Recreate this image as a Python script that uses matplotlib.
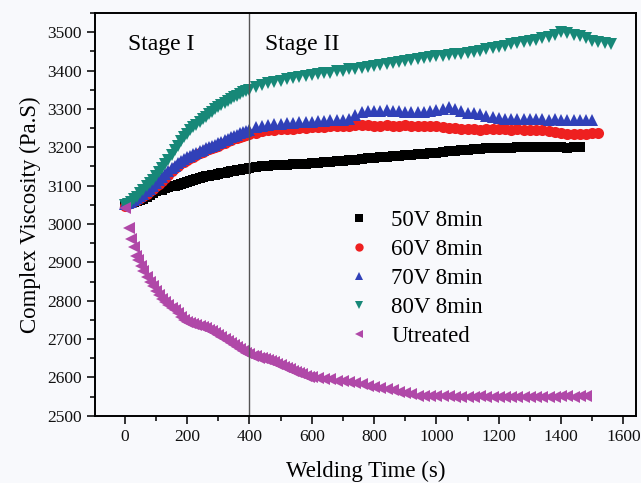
import matplotlib
matplotlib.use("Agg")
import matplotlib.pyplot as plt
from matplotlib.lines import Line2D
from matplotlib.ticker import MultipleLocator

plt.rcParams['font.family'] = ['Liberation Serif', 'DejaVu Serif']

# ---- data ----
x_50 = list(range(0, 400, 10)) + list(range(400, 1461, 20))
y_50 = [3050, 3052, 3055, 3057, 3060, 3062, 3065, 3070, 3075, 3080,
        3085, 3088, 3090, 3093, 3096, 3098, 3100, 3103, 3105, 3108,
        3110, 3113, 3115, 3118, 3120, 3122, 3124, 3126, 3127, 3129,
        3130, 3132, 3134, 3136, 3138, 3139, 3140, 3142, 3143, 3144,
        3145, 3148, 3150, 3152, 3154, 3155, 3155, 3156, 3157, 3157,
        3158, 3160, 3162, 3163, 3164, 3165, 3167, 3168, 3170, 3172,
        3173, 3175, 3176, 3177, 3178, 3180, 3181, 3182, 3183, 3184,
        3186, 3188, 3190, 3191, 3192, 3193, 3195, 3196, 3197, 3197,
        3197, 3198, 3199, 3200, 3200, 3200, 3200, 3201, 3200, 3200,
        3200, 3199, 3200, 3200]

x_60 = list(range(0, 400, 10)) + list(range(400, 1521, 20))
y_60 = [3048, 3051, 3055, 3059, 3063, 3067, 3072, 3078, 3085, 3091,
        3098, 3105, 3112, 3120, 3128, 3137, 3145, 3152, 3158, 3163,
        3168, 3172, 3176, 3181, 3185, 3189, 3192, 3195, 3198, 3201,
        3204, 3208, 3212, 3216, 3220, 3223, 3225, 3228, 3230, 3233,
        3235, 3238, 3242, 3245, 3246, 3247, 3248, 3248, 3250, 3251,
        3252, 3253, 3254, 3255, 3255, 3256, 3255, 3257, 3258, 3257,
        3256, 3256, 3257, 3256, 3256, 3257, 3256, 3255, 3256, 3256,
        3255, 3253, 3250, 3250, 3249, 3248, 3248, 3246, 3247, 3248,
        3247, 3247, 3246, 3247, 3246, 3245, 3245, 3244, 3242, 3240,
        3238, 3236, 3235, 3235, 3236, 3237, 3238]

x_70 = list(range(0, 400, 10)) + list(range(400, 1501, 20))
y_70 = [3052, 3055, 3058, 3062, 3067, 3072, 3078, 3085, 3092, 3100,
        3108, 3115, 3122, 3130, 3138, 3145, 3152, 3158, 3164, 3169,
        3174, 3178, 3182, 3186, 3190, 3194, 3197, 3200, 3203, 3206,
        3210, 3214, 3218, 3222, 3226, 3230, 3233, 3237, 3240, 3243,
        3246, 3252, 3256, 3259, 3261, 3262, 3263, 3264, 3265, 3266,
        3267, 3268, 3269, 3270, 3271, 3272, 3275, 3285, 3292, 3294,
        3295, 3295, 3296, 3295, 3294, 3293, 3292, 3292, 3293, 3295,
        3297, 3300, 3304, 3300, 3294, 3290, 3290, 3288, 3282, 3278,
        3276, 3275, 3274, 3274, 3275, 3274, 3273, 3273, 3272, 3273,
        3272, 3271, 3270, 3272, 3271, 3270]

x_80 = list(range(0, 400, 10)) + list(range(400, 1561, 20))
y_80 = [3050, 3053, 3058, 3064, 3070, 3080, 3090, 3099, 3108, 3116,
        3125, 3135, 3145, 3156, 3168, 3180, 3192, 3204, 3216, 3226,
        3236, 3244, 3252, 3259, 3266, 3273, 3280, 3287, 3293, 3299,
        3305, 3311, 3316, 3321, 3326, 3331, 3335, 3339, 3343, 3347,
        3350, 3358, 3363, 3367, 3371, 3374, 3377, 3380, 3383, 3386,
        3388, 3390, 3393, 3395, 3398, 3400, 3403, 3405, 3408, 3410,
        3413, 3415, 3418, 3420, 3423, 3425, 3428, 3430, 3433, 3435,
        3437, 3439, 3441, 3443, 3444, 3446, 3449, 3452, 3455, 3458,
        3461, 3465, 3468, 3471, 3474, 3477, 3480, 3484, 3488, 3494,
        3500, 3498, 3494, 3490, 3484, 3478, 3475, 3472, 3470]

x_un = ([0, 12, 20, 28, 36, 44, 52, 60, 70, 80, 90, 100, 110, 120, 130, 140,
         150, 160, 170, 180, 190] + list(range(200, 601, 10))
        + list(range(620, 1481, 20)))
y_un = [3042, 2990, 2962, 2940, 2918, 2905, 2890, 2878, 2862, 2850, 2838,
        2825, 2815, 2805, 2797, 2790, 2782, 2775, 2767, 2757, 2750,
        2745, 2742, 2740, 2738, 2735, 2732, 2728, 2724, 2720, 2715,
        2710, 2705, 2700, 2695, 2690, 2685, 2680, 2675, 2670, 2665,
        2660, 2657, 2655, 2652, 2650, 2647, 2645, 2642, 2640, 2636,
        2632, 2628, 2625, 2621, 2618, 2615, 2612, 2608, 2605, 2602,
        2600,
        2598, 2597, 2595, 2592, 2590, 2588, 2585, 2582, 2578, 2575,
        2572, 2570, 2567, 2563, 2560, 2557, 2553, 2552, 2551, 2552,
        2553, 2551, 2550, 2550, 2548, 2550, 2552, 2550, 2550, 2550,
        2550, 2550, 2550, 2550, 2550, 2550, 2550, 2550, 2550, 2551,
        2552, 2550, 2552, 2552]

labels = ['50V 8min', '60V 8min', '70V 8min', '80V 8min', 'Utreated']
colors = ['#000000', '#ee2020', '#3040b8', '#178878', '#b048a8']
markers = ['s', 'o', '^', 'v', '<']
sizes = [7.5, 8.0, 8.5, 8.5, 8.5]
series = [(x_50, y_50), (x_60, y_60), (x_70, y_70), (x_80, y_80), (x_un, y_un)]

bg = '#f8f9fc'
fig = plt.figure(figsize=(6.41, 4.83), dpi=100, facecolor=bg)
ax = fig.add_axes([0.148, 0.139, 0.844, 0.834], facecolor=bg)

for (xs, ys), c, m, ms in zip(series, colors, markers, sizes):
    ax.plot(xs, ys, linestyle='none', marker=m, color=c, markersize=ms,
            markeredgewidth=0)

ax.axvline(400, color='#555555', lw=1.0)

ax.set_xlim(-96, 1640)
ax.set_ylim(2500, 3550)
ax.xaxis.set_major_locator(MultipleLocator(200))
ax.xaxis.set_minor_locator(MultipleLocator(100))
ax.yaxis.set_major_locator(MultipleLocator(100))
ax.yaxis.set_minor_locator(MultipleLocator(50))
ax.tick_params(which='both', direction='out', top=False, right=False,
               width=1.2, labelsize=12.5, colors='#111111')
ax.tick_params(which='major', length=6)
ax.tick_params(which='minor', length=3.5)
for s in ax.spines.values():
    s.set_linewidth(1.4)

ax.set_xlabel('Welding Time (s)', fontsize=16.5, labelpad=11)
ax.set_ylabel('Complex Viscosity (Pa.S)', fontsize=16.5, labelpad=4)

ax.text(10, 3467, 'Stage I', fontsize=17, va='center', ha='left')
ax.text(450, 3467, 'Stage II', fontsize=17, va='center', ha='left')

handles = [Line2D([], [], linestyle='none', marker=m, color=c, markersize=6,
                  markeredgewidth=0) for c, m in zip(colors, markers)]
ax.legend(handles, labels, loc='upper left', bbox_to_anchor=(0.429, 0.562),
          frameon=False, fontsize=16.5, handlelength=1.0, handletextpad=0.9,
          labelspacing=0.35)

fig.savefig('out.png', dpi=100, facecolor=bg)
